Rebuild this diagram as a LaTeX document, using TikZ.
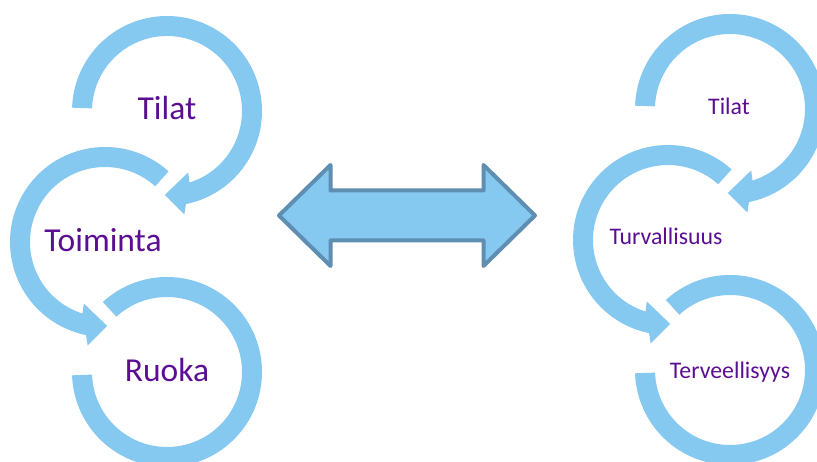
\documentclass[tikz,border=0pt]{standalone}
\usepackage{fontspec}
\setmainfont{Carlito}
\usepackage{tikz}
\usetikzlibrary{calc}
\definecolor{ringblue}{RGB}{133,200,240}
\definecolor{edgeblue}{RGB}{94,142,178}
\definecolor{textpurple}{RGB}{91,14,145}
% ring turning clockwise from the left, head at the bottom
\def\ringcw(#1){\fill[ringblue] ($(#1)+(178:95pt)$) arc[start angle=178, end angle=-78.5, radius=95pt] -- ($(#1)+(-80.5:105pt)$) -- ($(#1)+(-91.5:84pt)$) -- ($(#1)+(-71:65pt)$) -- ($(#1)+(-72.5:75pt)$) arc[start angle=-72.5, end angle=178, radius=75pt] -- cycle;}
% ring turning counter-clockwise from the upper right, head at the bottom
\def\ringccw(#1){\fill[ringblue] ($(#1)+(48:95pt)$) arc[start angle=48, end angle=258.5, radius=95pt] -- ($(#1)+(260.5:105pt)$) -- ($(#1)+(271.5:84pt)$) -- ($(#1)+(251:65pt)$) -- ($(#1)+(252.5:75pt)$) arc[start angle=252.5, end angle=48, radius=75pt] -- cycle;}
% ring without head
\def\ringopen(#1){\fill[ringblue] ($(#1)+(132.5:95pt)$) arc[start angle=132.5, end angle=-178, radius=95pt] -- ($(#1)+(-178:75pt)$) arc[start angle=-178, end angle=132.5, radius=75pt] -- cycle;}

\begin{document}
\begin{tikzpicture}[x=1pt, y=1pt,
	bigtext/.style={text=textpurple, anchor=base, inner sep=0pt, font=\fontsize{33.5}{40}\selectfont},
	smalltext/.style={text=textpurple, anchor=base, inner sep=0pt, font=\fontsize{23.8}{28}\selectfont}]
		%%%%% START %%%%%
		
		\clip (0, 0) rectangle (817, 462);
		
		\coordinate (ltop) at (167, 351);
		\coordinate (lmid) at (105, 220);
		\coordinate (lbot) at (167, 90);
		\coordinate (rtop) at (730, 353);
		\coordinate (rmid) at (668, 222);
		\coordinate (rbot) at (730, 92);
		
		\ringcw(ltop)
		\ringccw(lmid)
		\ringopen(lbot)
		
		\ringcw(rtop)
		\ringccw(rmid)
		\ringopen(rbot)
		
		\node[bigtext] (tilatL) at (167, 342) {Tilat};
		\node[bigtext] (toiminta) at (103, 210.3) {Toiminta};
		\node[bigtext] (ruoka) at (167, 80.3) {Ruoka};
		
		\node[smalltext] (tilatR) at (729, 347) {Tilat};
		\node[smalltext] (turvallisuus) at (666, 217) {Turvallisuus};
		\node[smalltext] (terveellisyys) at (730, 83) {Terveellisyys};
		
		\draw[line width=4pt, line join=round, draw=edgeblue, fill=ringblue] (279, 246.5) -- (330.5, 297) -- (330.5, 271.5) -- (483.5, 271.5) -- (483.5, 297) -- (535, 246.5) -- (483.5, 196) -- (483.5, 221.5) -- (330.5, 221.5) -- (330.5, 196) -- cycle;
		
		%%%%% END %%%%%
	\end{tikzpicture}
\end{document}
